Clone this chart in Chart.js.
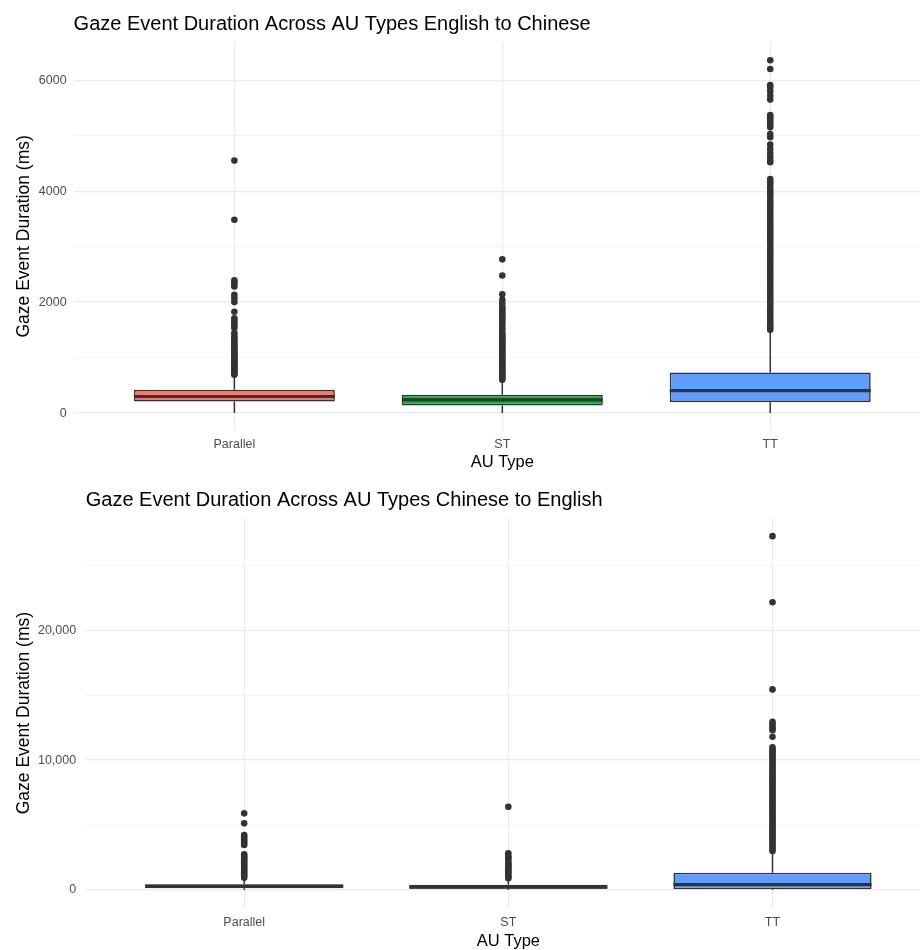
<!DOCTYPE html>
<html><head><meta charset="utf-8">
<script src="https://cdn.jsdelivr.net/npm/chart.js@4/dist/chart.umd.min.js"></script>
<style>
html,body{margin:0;padding:0;background:#fff;overflow:hidden;width:920px;height:950px;}
#wrap{position:relative;width:920px;height:950px;overflow:hidden;background:#fff;}
canvas{position:absolute;left:0;}
</style></head><body>
<div id="wrap">
<canvas id="c1" width="935" height="475" style="top:0"></canvas>
<canvas id="c2" width="935" height="475" style="top:475px"></canvas>
</div>
<script>
// ---------- shared ----------
const categories = ['Parallel', 'ST', 'TT'];
const boxColors = ['#F8766D', '#00BA38', '#619CFF'];

// ---------- English to Chinese ----------
const ecTitle = 'Gaze Event Duration Across AU Types English to Chinese';
const ecQ1 = [208, 137, 197];
const ecMedian = [298, 239, 406];
const ecQ3 = [418, 329, 731];
const ecLower = [0, 0, 0];
const ecUpper = [660, 570, 1460];
const ecOutParallel = [690, 712, 738, 760, 787, 812, 836, 864, 888, 915, 942, 963, 990, 1018, 1042, 1066, 1093, 1118, 1142, 1171, 1203, 1232, 1262, 1301, 1348, 1382, 1440, 1532, 1581, 1618, 1662, 1708, 1825, 2000, 2068, 2130, 2282, 2318, 2356, 2392, 3485, 4550];
const ecOutST = [600, 628, 661, 688, 722, 749, 783, 812, 838, 871, 902, 928, 962, 991, 1019, 1052, 1078, 1112, 1139, 1171, 1198, 1233, 1259, 1292, 1318, 1352, 1379, 1412, 1440, 1502, 1538, 1590, 1641, 1680, 1718, 1756, 1800, 1842, 1878, 1915, 1975, 2040, 2140, 2480, 2770];
const ecOutTT = [1500, 1548, 1583, 1631, 1679, 1732, 1778, 1834, 1879, 1928, 1983, 2031, 2077, 2133, 2178, 2232, 2281, 2328, 2384, 2430, 2477, 2533, 2579, 2632, 2681, 2728, 2783, 2829, 2881, 2932, 2978, 3033, 3079, 3128, 3184, 3231, 3278, 3333, 3381, 3427, 3482, 3530, 3577, 3632, 3681, 3728, 3782, 3831, 3879, 3933, 3981, 4027, 4083, 4131, 4178, 4220, 4520, 4562, 4610, 4680, 4760, 4838, 4970, 5030, 5150, 5198, 5240, 5292, 5330, 5370, 5650, 5720, 5800, 5862, 5910, 6200, 6360];
const ecTickValues = [0, 1000, 2000, 3000, 4000, 5000, 6000];
const ecTickLabels = ['0', '', '2000', '', '4000', '', '6000'];

// ---------- Chinese to English ----------
const ceTitle = 'Gaze Event Duration Across AU Types Chinese to English';
const ceQ1 = [130, 100, 60];
const ceMedian = [280, 220, 410];
const ceQ3 = [440, 400, 1330];
const ceLower = [0, 0, 0];
const ceUpper = [900, 850, 2950];
const ceOutParallel = [950, 1080, 1220, 1360, 1500, 1640, 1780, 1920, 2060, 2200, 2340, 2480, 2610, 2740, 3460, 3620, 3780, 3940, 4100, 4230, 5130, 5900];
const ceOutST = [900, 1040, 1180, 1320, 1460, 1600, 1740, 1880, 1980, 2080, 2310, 2460, 2600, 2820, 6410];
const ceOutTT = [3000, 3160, 3320, 3480, 3640, 3800, 3960, 4120, 4280, 4440, 4600, 4760, 4920, 5080, 5240, 5400, 5560, 5720, 5880, 6040, 6200, 6360, 6520, 6680, 6840, 7000, 7160, 7320, 7480, 7640, 7800, 7960, 8120, 8280, 8440, 8600, 8760, 8920, 9080, 9240, 9400, 9560, 9720, 9880, 10040, 10200, 10360, 10520, 10680, 10840, 10980, 11800, 12300, 12450, 12600, 12800, 12950, 15440, 22150, 27230];
const ceTickValues = [0, 5000, 10000, 15000, 20000, 25000];
const ceTickLabels = ['0', '', '10,000', '', '20,000', ''];

const FAMILY = '"Liberation Sans", Arial, Helvetica, sans-serif';
Chart.defaults.font.family = FAMILY;

function makeBoxChart(id, cfg) {
  const boxPlugin = {
    id: 'boxParts',
    afterDatasetDraw(chart, args) {
      if (args.index !== 0) return;
      const ctx = chart.ctx, xs = chart.scales.x, ys = chart.scales.y;
      ctx.save();
      ctx.strokeStyle = '#333333';
      cfg.q1.forEach((q1, i) => {
        const el = args.meta.data[i];
        const cx = xs.getPixelForValue(i + 1);
        const hw = el.width / 2;
        ctx.lineWidth = 1.5;
        ctx.beginPath();
        ctx.moveTo(cx, ys.getPixelForValue(cfg.q3[i]));
        ctx.lineTo(cx, ys.getPixelForValue(cfg.upper[i]));
        ctx.moveTo(cx, ys.getPixelForValue(q1));
        ctx.lineTo(cx, ys.getPixelForValue(cfg.lower[i]));
        ctx.stroke();
        ctx.lineWidth = 3.2;
        const my = ys.getPixelForValue(cfg.median[i]);
        ctx.beginPath();
        ctx.moveTo(cx - hw, my);
        ctx.lineTo(cx + hw, my);
        ctx.stroke();
      });
      ctx.restore();
    }
  };
  const titlePlugin = {
    id: 'leftTitle',
    afterDraw(chart) {
      const ctx = chart.ctx;
      ctx.save();
      ctx.font = '20px ' + FAMILY;
      ctx.fillStyle = '#000000';
      ctx.textAlign = 'left';
      ctx.textBaseline = 'alphabetic';
      ctx.fillText(cfg.title, chart.chartArea.left, cfg.titleBaseline);
      ctx.restore();
    }
  };
  const outliers = [];
  cfg.outliers.forEach((arr, i) => arr.forEach(v => outliers.push({ x: i + 1, y: v })));
  return new Chart(document.getElementById(id), {
    type: 'bar',
    data: {
      datasets: [
        {
          type: 'bar',
          order: 2,
          data: categories.map((c, i) => ({ x: i + 1, y: [cfg.q1[i], cfg.q3[i]] })),
          backgroundColor: boxColors,
          borderColor: '#333333',
          borderWidth: 1.6,
          borderSkipped: false,
          categoryPercentage: 1,
          barPercentage: 0.75
        },
        {
          type: 'scatter',
          order: 1,
          data: outliers,
          pointRadius: 3.3,
          pointBackgroundColor: '#333333',
          pointBorderWidth: 0,
          showLine: false
        }
      ]
    },
    options: {
      responsive: false,
      animation: false,
      events: [],
      layout: { padding: { top: cfg.padTop, left: 0, right: 0, bottom: 0 } },
      plugins: { legend: { display: false }, tooltip: { enabled: false }, title: { display: false } },
      scales: {
        x: {
          type: 'linear',
          min: 0.4, max: 3.6,
          offset: false,
          afterBuildTicks: s => { s.ticks = categories.map((c, i) => ({ value: i + 1 })); },
          afterFit: s => { s.height = cfg.xHeight; },
          ticks: {
            callback: v => categories[Math.round(v) - 1],
            color: '#4D4D4D', font: { size: 12.5 }, padding: cfg.xTickPad,
            maxRotation: 0, autoSkip: false
          },
          grid: { color: '#EBEBEB', lineWidth: 1.2, drawTicks: false, offset: false },
          border: { display: false },
          title: {
            display: true, text: 'AU Type', color: '#000000',
            font: { size: 16.5, lineHeight: 1 }, padding: { top: 0, bottom: cfg.xTitlePad }
          }
        },
        y: {
          type: 'linear',
          min: cfg.yMin, max: cfg.yMax,
          afterBuildTicks: s => { s.ticks = cfg.tickValues.map(v => ({ value: v })); },
          afterFit: s => { s.width = cfg.yWidth; },
          ticks: {
            callback: (v, i) => cfg.tickLabels[i],
            color: '#4D4D4D', font: { size: 12.5 }, padding: cfg.yTickPad
          },
          grid: {
            color: c => cfg.tickLabels[c.index] ? '#EBEBEB' : '#F1F1F1',
            lineWidth: c => cfg.tickLabels[c.index] ? 1.2 : 0.8,
            drawTicks: false
          },
          border: { display: false },
          title: {
            display: true, text: 'Gaze Event Duration (ms)', color: '#000000',
            font: { size: 17.5, lineHeight: 1 }, padding: { top: 15, bottom: 0 }
          }
        }
      }
    },
    plugins: [boxPlugin, titlePlugin]
  });
}

makeBoxChart('c1', {
  title: ecTitle, titleBaseline: 29.5,
  q1: ecQ1, median: ecMedian, q3: ecQ3, lower: ecLower, upper: ecUpper,
  outliers: [ecOutParallel, ecOutST, ecOutTT],
  tickValues: ecTickValues, tickLabels: ecTickLabels,
  yMin: -318, yMax: 6688,
  padTop: 42, xHeight: 44.3, yWidth: 73.6,
  xTickPad: 6, xTitlePad: 4.5, yTickPad: 7
});

makeBoxChart('c2', {
  title: ceTitle, titleBaseline: 31,
  q1: ceQ1, median: ceMedian, q3: ceQ3, lower: ceLower, upper: ceUpper,
  outliers: [ceOutParallel, ceOutST, ceOutTT],
  tickValues: ceTickValues, tickLabels: ceTickLabels,
  yMin: -1361, yMax: 28590,
  padTop: 43.5, xHeight: 42.3, yWidth: 85.7,
  xTickPad: 7, xTitlePad: 0, yTickPad: 9.5
});
</script>
</body></html>
